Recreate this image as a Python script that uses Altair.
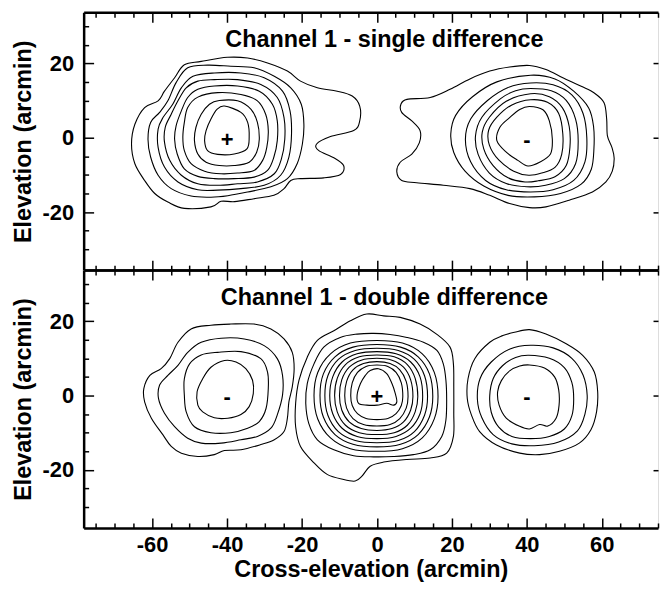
import altair as alt
import pandas as pd

FONT = "Liberation Sans"

# ---------------- contour paths (arcmin) : top panel, single difference ----------------
single_pos_1 = [(-65.5,-1.7),(-64.6,3.6),(-62.0,8.1),(-58.4,9.9),(-56.7,12.5),(-54.0,16.1),(-51.4,19.6),
                (-46.9,20.5),(-39.9,21.6),(-34.5,21.4),(-29.2,20.1),(-23.9,17.9),(-20.4,15.2),(-15.9,13.4),
                (-10.6,12.5),(-6.6,11.2),(-4.6,8.5),(-4.6,4.5),(-6.2,1.9),(-12.4,0.3),(-16.1,-1.7),(-15.5,-3.5),
                (-11.5,-5.4),(-8.9,-7.5),(-9.7,-9.9),(-14.2,-10.8),(-20.4,-11.0),(-23.0,-11.5),(-24.8,-13.7),
                (-27.5,-15.5),(-32.8,-16.4),(-38.0,-17.2),(-41.6,-17.1),(-44.3,-18.6),(-51.4,-19.0),
                (-55.8,-17.3),(-59.3,-15.0),(-62.0,-11.5),(-64.6,-7.0)]
single_pos_2 = [(-50.5,18.8),(-45.2,19.5),(-39.0,19.2),(-32.8,18.8),(-27.4,16.5),(-23.0,13.4),(-20.2,9.0),
                (-19.5,3.6),(-19.9,-1.7),(-21.3,-7.0),(-23.9,-11.0),(-28.3,-13.2),(-34.5,-14.6),(-39.8,-15.6),
                (-44.3,-16.0),(-49.6,-15.7),(-54.9,-13.7),(-58.4,-10.1),(-60.4,-5.2),(-61.1,-0.4),(-60.4,4.1),
                (-58.0,6.8),(-55.8,9.9),(-53.6,14.8)]
single_pos_3 = [(-43.4,17.4),(-36.3,17.4),(-30.1,16.1),(-25.2,12.5),(-23.2,7.2),(-22.8,1.0),(-23.5,-5.2),
                (-25.7,-10.1),(-30.1,-12.8),(-36.3,-13.7),(-42.5,-14.1),(-47.8,-14.0),(-53.1,-11.9),
                (-56.7,-7.9),(-58.4,-2.6),(-58.4,2.3),(-57.1,5.4),(-54.5,9.0),(-52.2,13.4),(-49.1,16.5)]
single_pos_4 = [(-43.4,15.6),(-37.2,15.6),(-31.0,14.3),(-26.6,10.8),(-24.8,5.4),(-24.6,-0.4),(-25.5,-5.7),
                (-27.4,-9.7),(-31.9,-11.9),(-37.2,-12.4),(-42.5,-12.8),(-47.8,-12.4),(-52.2,-10.1),
                (-55.3,-6.1),(-56.7,-1.2),(-56.5,2.8),(-54.9,6.3),(-53.1,9.9),(-50.9,13.4),(-47.8,15.2)]
single_pos_5 = [(-43.4,13.9),(-37.2,13.9),(-31.4,12.5),(-27.9,9.0),(-26.6,4.5),(-26.6,-0.8),(-27.5,-5.2),
                (-29.2,-8.8),(-32.8,-10.6),(-38.1,-11.0),(-43.4,-11.0),(-47.8,-10.4),(-51.4,-8.4),
                (-53.3,-4.4),(-54.0,-0.4),(-53.6,3.2),(-52.2,7.2),(-50.5,10.8),(-47.8,13.0)]
single_pos_6 = [(-42.5,12.1),(-36.3,11.6),(-31.9,9.9),(-29.7,6.3),(-29.0,1.9),(-29.4,-2.6),(-30.5,-6.1),
                (-32.8,-8.8),(-37.2,-9.5),(-41.6,-9.7),(-46.0,-9.0),(-49.6,-7.0),(-51.4,-3.5),(-51.8,0.1),
                (-51.4,4.1),(-50.5,8.1),(-47.8,10.9)]
single_pos_7 = [(-42.1,10.0),(-37.2,9.9),(-33.6,7.6),(-31.9,4.1),(-31.4,-0.4),(-32.1,-3.9),(-34.1,-6.6),
                (-38.1,-7.5),(-42.1,-7.5),(-45.6,-6.6),(-47.8,-4.4),(-48.7,-0.8),(-48.3,2.8),(-46.9,6.3),
                (-44.7,9.0)]
single_pos_8 = [(-40.7,8.5),(-36.3,6.8),(-34.5,4.1),(-34.1,0.1),(-34.7,-3.0),(-38.1,-4.4),(-42.5,-4.5),
                (-45.2,-3.5),(-46.0,-0.8),(-45.6,1.9),(-44.3,5.0),(-42.7,7.6)]

single_neg_1 = [(8.0,10.3),(14.2,10.8),(19.5,13.0),(24.8,15.8),(30.1,17.9),(35.4,19.0),(40.7,19.4),
                (45.1,18.3),(49.6,16.1),(54.5,13.8),(58.0,12.0),(60.6,9.4),(61.3,5.0),(61.5,0.5),
                (62.7,-2.6),(63.3,-5.5),(62.8,-9.0),(61.1,-11.9),(57.5,-14.6),(51.3,-16.8),(45.1,-18.6),
                (40.7,-18.8),(35.4,-17.7),(30.1,-15.5),(24.8,-13.7),(17.7,-12.8),(10.6,-12.1),(6.6,-11.5),
                (5.3,-9.2),(6.2,-6.6),(9.3,-4.4),(11.3,-1.4),(11.5,1.9),(9.3,4.5),(6.6,6.8),(6.4,9.0)]
single_neg_2 = [(41.0,16.8),(47.5,15.8),(52.5,12.5),(56.5,8.0),(57.8,3.0),(57.9,-3.0),(57.2,-8.5),
                (54.5,-12.5),(49.0,-15.0),(42.0,-15.9),(35.0,-15.5),(28.5,-13.0),(23.5,-9.0),(20.5,-4.0),
                (19.7,1.0),(21.0,6.0),(25.5,11.0),(32.0,15.0)]
single_neg_3 = [(41.0,14.7),(47.0,14.2),(52.0,11.5),(55.0,6.5),(56.0,0.0),(55.5,-6.5),(52.5,-11.5),
                (47.0,-14.0),(41.0,-14.6),(34.5,-14.0),(29.0,-11.5),(25.0,-6.5),(23.6,-0.5),(25.0,5.0),
                (29.5,10.0),(35.0,13.5)]
single_neg_4 = [(41.0,13.2),(46.5,12.6),(50.5,10.0),(53.0,5.0),(53.7,-1.0),(53.0,-7.0),(50.0,-11.0),
                (45.0,-12.8),(40.0,-13.2),(34.5,-12.3),(30.0,-9.5),(27.0,-4.5),(26.3,0.5),(28.0,5.5),
                (33.0,10.5),(37.0,12.6)]
single_neg_5 = [(41.0,11.8),(46.0,11.0),(49.5,8.0),(51.3,3.0),(51.5,-2.5),(50.5,-7.5),(47.5,-10.5),
                (43.0,-11.6),(39.5,-11.9),(35.0,-10.8),(31.0,-7.5),(28.5,-3.0),(28.1,1.5),(30.0,5.5),
                (34.5,9.8)]
single_neg_6 = [(41.0,10.2),(45.5,9.5),(48.5,6.5),(49.6,1.0),(49.3,-4.5),(47.5,-8.0),(44.0,-9.5),
                (40.5,-10.1),(36.5,-9.0),(32.5,-6.0),(30.0,-2.0),(29.8,2.0),(32.0,5.5),(36.0,8.8)]
single_neg_7 = [(40.7,8.4),(44.3,7.5),(46.0,4.5),(46.8,-0.4),(46.3,-4.4),(43.4,-6.6),(40.3,-7.6),
                (37.6,-6.1),(34.5,-3.9),(32.0,-0.8),(32.8,2.8),(35.4,5.4),(38.1,7.6)]

# ---------------- contour paths (arcmin) : bottom panel, double difference ----------------
double_left_1 = [(-49.6,17.9),(-44.3,18.9),(-39.0,19.2),(-32.8,19.2),(-28.3,17.9),(-24.8,15.2),(-22.6,11.6),
                 (-22.1,7.2),(-22.6,2.3),(-23.5,-1.7),(-23.9,-6.1),(-24.8,-9.7),(-27.4,-11.9),(-31.0,-13.2),
                 (-36.3,-14.6),(-40.7,-14.8),(-43.4,-15.9),(-47.8,-16.4),(-52.2,-15.5),(-54.9,-13.7),
                 (-57.1,-10.6),(-60.2,-6.1),(-62.0,-1.7),(-62.2,1.9),(-60.6,5.4),(-57.6,7.2),(-55.3,9.9),
                 (-53.1,14.3)]
double_left_2 = [(-41.6,15.4),(-35.4,15.2),(-30.1,13.4),(-26.6,9.9),(-25.2,5.4),(-25.2,0.1),(-26.6,-5.2),
                 (-28.3,-8.8),(-31.9,-11.0),(-36.3,-11.9),(-41.6,-12.8),(-46.9,-12.8),(-50.5,-11.5),
                 (-54.0,-8.4),(-56.7,-4.8),(-58.3,-0.8),(-58.0,2.8),(-55.8,5.4),(-53.1,8.1),(-50.5,11.6),
                 (-46.9,14.3)]
double_left_3 = [(-42.5,11.6),(-36.3,11.8),(-31.0,9.9),(-29.2,6.3),(-29.0,1.9),(-29.6,-3.5),(-31.4,-7.0),
                 (-34.5,-8.8),(-39.0,-10.0),(-44.3,-10.0),(-48.7,-8.4),(-50.9,-4.4),(-51.4,0.1),(-51.4,4.5),
                 (-50.0,8.5),(-46.9,10.9)]
double_left_4 = [(-40.7,9.4),(-37.6,9.0),(-35.0,7.2),(-33.2,4.1),(-33.0,0.5),(-34.1,-3.0),(-36.3,-5.1),
                 (-39.8,-6.1),(-43.4,-6.0),(-46.5,-4.4),(-47.8,-2.6),(-48.0,1.0),(-46.5,4.5),(-44.3,7.6)]

double_mid_1 = [(-2.7,21.9),(-7.1,20.1),(-11.5,17.4),(-15.9,14.8),(-18.6,10.3),(-20.8,4.1),(-21.7,-2.1),
                (-21.7,-8.4),(-20.4,-13.7),(-16.8,-18.1),(-13.3,-21.2),(-8.9,-22.6),(-5.8,-23.0),(-4.0,-21.7),
                (-1.8,-19.0),(1.8,-17.9),(8.0,-17.2),(14.2,-16.8),(18.6,-15.5),(20.4,-11.0),(20.5,-4.8),
                (20.5,2.3),(20.4,8.5),(19.5,13.0),(15.9,16.5),(11.5,19.2),(6.2,21.0),(1.8,21.4)]
double_mid_2 = [(-0.9,16.7),(3.5,16.4),(8.0,15.6),(12.4,14.3),(16.0,12.1),(17.7,8.5),(18.4,4.1),
                (18.6,-1.2),(18.4,-6.6),(17.3,-11.0),(14.2,-14.6),(9.7,-15.9),(4.4,-16.4),(-0.9,-16.5),
                (-6.2,-16.2),(-11.5,-14.6),(-15.9,-11.9),(-18.2,-7.5),(-19.0,-2.1),(-18.6,3.2),(-16.8,8.5),
                (-14.2,13.0),(-9.8,15.6),(-5.3,16.5)]
double_mid_3 = [(0.0,14.8),(6.8,14.1),(12.1,11.2),(15.3,6.2),(16.3,-0.3),(15.3,-6.3),(12.1,-11.4),
                (6.8,-14.3),(0.0,-15.0),(-7.1,-14.3),(-12.4,-11.4),(-15.8,-6.3),(-16.8,0.0),(-15.8,6.2),
                (-12.4,11.2),(-7.1,14.1)]
double_mid_4 = [(0.0,13.7),(6.3,13.0),(11.0,10.4),(14.0,5.8),(14.9,-0.3),(14.0,-5.8),(11.0,-10.5),
                (6.3,-13.1),(0.0,-13.8),(-6.4,-13.1),(-11.2,-10.5),(-14.3,-5.8),(-15.2,0.0),(-14.3,5.8),
                (-11.2,10.4),(-6.4,13.0)]
double_mid_5 = [(0.0,12.7),(5.7,12.1),(10.0,9.7),(12.7,5.3),(13.5,-0.3),(12.7,-5.3),(10.0,-9.7),
                (5.7,-12.1),(0.0,-12.7),(-5.8,-12.1),(-10.3,-9.7),(-13.1,-5.3),(-13.9,0.0),(-13.1,5.3),
                (-10.3,9.7),(-5.8,12.1)]
double_mid_6 = [(0.0,11.8),(5.1,11.2),(9.0,9.0),(11.5,5.0),(12.2,-0.3),(11.5,-4.9),(9.0,-8.8),
                (5.1,-11.0),(0.0,-11.6),(-5.3,-11.0),(-9.3,-8.8),(-11.8,-4.9),(-12.6,0.0),(-11.8,5.0),
                (-9.3,9.0),(-5.3,11.2)]
double_mid_7 = [(0.0,10.9),(4.6,10.4),(8.1,8.3),(10.2,4.6),(10.9,-0.3),(10.2,-4.4),(8.1,-8.0),
                (4.6,-10.0),(0.0,-10.5),(-4.7,-10.0),(-8.4,-8.0),(-10.6,-4.4),(-11.3,0.0),(-10.6,4.6),
                (-8.4,8.3),(-4.7,10.4)]
double_mid_8 = [(0.0,10.0),(4.0,9.5),(7.1,7.6),(9.0,4.2),(9.6,-0.3),(9.0,-3.9),(7.1,-7.1),
                (4.0,-8.9),(0.0,-9.4),(-4.2,-8.9),(-7.4,-7.1),(-9.4,-3.9),(-10.0,0.0),(-9.4,4.2),
                (-7.4,7.6),(-4.2,9.5)]
double_mid_9 = [(0.0,9.1),(3.5,8.6),(6.1,6.9),(7.8,3.8),(8.3,-0.3),(7.8,-3.4),(6.1,-6.2),
                (3.5,-7.8),(0.0,-8.2),(-3.6,-7.8),(-6.4,-6.2),(-8.1,-3.4),(-8.6,0.0),(-8.1,3.8),
                (-6.4,6.9),(-3.6,8.6)]
double_mid_10 = [(0.0,8.2),(2.9,7.8),(5.1,6.2),(6.5,3.4),(6.9,-0.3),(6.5,-2.7),(5.1,-4.9),
                 (2.9,-6.2),(0.0,-6.5),(-2.9,-6.2),(-5.2,-4.9),(-6.6,-2.7),(-7.0,0.0),(-6.6,3.4),
                 (-5.2,6.2),(-2.9,7.8)]
double_mid_11 = [(-1.8,6.7),(0.4,7.2),(2.6,5.9),(4.0,3.2),(4.9,0.5),(5.3,-1.7),(4.4,-2.6),(2.6,-2.1),
                 (0.0,-2.6),(-2.7,-2.6),(-4.9,-2.1),(-5.3,0.1),(-4.4,3.2),(-3.1,5.4)]

double_right_1 = [(36.7,17.0),(40.7,17.7),(45.1,16.5),(50.5,13.9),(54.9,10.8),(58.0,6.3),(58.9,1.0),
                  (58.6,-4.4),(57.1,-9.2),(54.0,-12.8),(48.7,-15.0),(43.4,-15.9),(38.1,-15.5),(31.9,-13.3),
                  (27.4,-9.7),(25.2,-5.2),(24.1,-0.8),(24.3,4.5),(26.1,9.9),(30.1,14.3),(33.6,16.1)]
double_right_2 = [(41.0,13.5),(47.0,12.8),(52.0,10.0),(55.0,5.5),(56.1,0.0),(55.5,-5.0),(53.5,-9.5),
                  (48.5,-12.5),(42.0,-13.5),(36.0,-13.0),(31.0,-10.5),(28.0,-6.0),(26.8,-1.0),(27.5,4.5),
                  (30.5,9.0),(35.5,12.5)]
double_right_3 = [(40.5,10.8),(46.0,10.0),(50.0,7.5),(52.0,3.5),(52.5,-1.0),(52.0,-5.5),(50.0,-9.0),
                  (46.0,-11.0),(41.0,-11.6),(36.0,-11.0),(32.5,-8.5),(30.5,-4.5),(30.1,0.0),(31.0,4.5),
                  (33.5,8.0),(37.0,10.2)]
double_right_4 = [(40.7,8.2),(44.7,7.4),(47.4,5.0),(48.5,1.5),(48.6,-2.6),(47.8,-6.1),(45.6,-8.2),
                  (43.4,-7.8),(40.7,-9.0),(38.1,-8.3),(34.5,-6.1),(32.6,-2.6),(32.2,1.0),(33.2,4.0),
                  (35.4,6.6),(38.1,7.9)]

top_contours = [single_pos_1, single_pos_2, single_pos_3, single_pos_4, single_pos_5, single_pos_6,
                single_pos_7, single_pos_8, single_neg_1, single_neg_2, single_neg_3, single_neg_4,
                single_neg_5, single_neg_6, single_neg_7]
bottom_contours = [double_left_1, double_left_2, double_left_3, double_left_4,
                   double_mid_1, double_mid_2, double_mid_3, double_mid_4, double_mid_5, double_mid_6,
                   double_mid_7, double_mid_8, double_mid_9, double_mid_10, double_mid_11,
                   double_right_1, double_right_2, double_right_3, double_right_4]

# beam-centre signs
top_sign_x = [-40, 40]
top_sign_y = [0, 0]
top_signs = ["+", "-"]
bottom_sign_x = [-40, 0, 40]
bottom_sign_y = [0, 0, 0]
bottom_signs = ["-", "+", "-"]

panel_titles = ["Channel 1 - single difference", "Channel 1 - double difference"]
title_x = [2.0, 2.0]
title_y = [24.3, 24.3]

x_title = "Cross-elevation (arcmin)"
y_title = "Elevation (arcmin)"
major_x = [-60, -40, -20, 0, 20, 40, 60]
minor_x = [-75, -70, -65, -55, -50, -45, -35, -30, -25, -15, -10, -5, 5, 10, 15, 25, 30, 35, 45, 50, 55, 65, 70, 75]
major_y = [-20, 0, 20]
minor_y = [-30, -25, -15, -10, -5, 5, 10, 15, 25, 30]

X_DOM = [-78.27, 75.0]
Y_DOM = [-35.6, 33.7]
W, H = 577, 259


def contour_frame(contours, tag):
    rows = []
    for cid, pts in enumerate(contours):
        for k, (x, y) in enumerate(pts):
            rows.append({"cid": f"{tag}{cid}", "k": k, "x": x, "y": y})
    return pd.DataFrame(rows)


XS = alt.Scale(domain=X_DOM, nice=False, zero=False)
YS = alt.Scale(domain=Y_DOM, nice=False, zero=False)
LABEL_EXPR = "datum.value < 0 ? '-' + abs(datum.value) : '' + datum.value"


def tick_axis(orient, values, size):
    return alt.Axis(orient=orient, values=values, labels=False, domain=False, grid=False,
                    ticks=True, tickSize=size, tickWidth=1.5, tickColor="black",
                    offset=-size, title=None)


def x_main(show):
    kw = dict(orient="bottom", values=major_x, ticks=False, grid=False, domain=True,
              domainWidth=2.5, domainColor="black")
    if show:
        kw.update(labels=True, labelFont=FONT, labelFontSize=22, labelFontWeight="bold",
                  labelColor="black", labelPadding=7, labelExpr=LABEL_EXPR, labelFlush=False,
                  title=x_title, titleFont=FONT, titleFontSize=23.5, titleFontWeight="bold",
                  titleColor="black", titlePadding=2)
    else:
        kw.update(labels=False, title=None)
    return alt.Axis(**kw)


y_main = alt.Axis(orient="left", values=major_y, ticks=False, grid=False, domain=True,
                  domainWidth=2.5, domainColor="black", labels=True, labelFont=FONT,
                  labelFontSize=22, labelFontWeight="bold", labelColor="black", labelPadding=10,
                  labelExpr=LABEL_EXPR, title=y_title, titleFont=FONT, titleFontSize=23.5,
                  titleFontWeight="bold", titleColor="black", titlePadding=7)

x_top_domain = alt.Axis(orient="top", values=major_x, ticks=False, labels=False, grid=False,
                        domain=True, domainWidth=2.5, domainColor="black", title=None)


def panel(contours, tag, sx, sy, signs, title_idx, show_x):
    cdf = contour_frame(contours, tag)
    sdf = pd.DataFrame({"x": sx, "y": sy, "sign": signs})
    tdf = pd.DataFrame({"x": [title_x[title_idx]], "y": [title_y[title_idx]],
                        "label": [panel_titles[title_idx]]})

    def X(axis):
        return alt.X("x:Q", scale=XS, axis=axis)

    def Y(axis):
        return alt.Y("y:Q", scale=YS, axis=axis)

    lines = alt.Chart(cdf).mark_line(
        interpolate="cardinal-closed", color="black", strokeWidth=1.1, clip=True
    ).encode(x=X(x_main(show_x)), y=Y(y_main), detail="cid:N", order="k:Q")

    sign_layer = alt.Chart(sdf).mark_text(
        font=FONT, fontSize=22, fontWeight="bold", color="black", baseline="middle", dy=2
    ).encode(x=X(x_top_domain), y=Y(tick_axis("right", major_y, 5)), text="sign:N")

    heading = alt.Chart(tdf).mark_text(
        font=FONT, fontSize=23.5, fontWeight="bold", color="black", align="center",
        baseline="alphabetic"
    ).encode(x=X(tick_axis("bottom", major_x, 10)), y=Y(tick_axis("left", major_y, 10)),
             text="label:N")

    d1 = alt.Chart(tdf).mark_point(opacity=0).encode(
        x=X(tick_axis("bottom", minor_x, 5)), y=Y(tick_axis("left", minor_y, 5)))
    d2 = alt.Chart(tdf).mark_point(opacity=0).encode(
        x=X(tick_axis("top", major_x, 10)), y=Y(None))
    d3 = alt.Chart(tdf).mark_point(opacity=0).encode(
        x=X(tick_axis("top", minor_x, 5)), y=Y(None))

    return alt.layer(lines, sign_layer, heading, d1, d2, d3).resolve_axis(
        x="independent", y="independent").properties(width=W, height=H)


top = panel(top_contours, "t", top_sign_x, top_sign_y, top_signs, 0, False)
bottom = panel(bottom_contours, "b", bottom_sign_x, bottom_sign_y, bottom_signs, 1, True)

chart = alt.vconcat(top, bottom, spacing=0, bounds="flush").properties(
    padding={"left": 2, "top": 1, "right": 0, "bottom": 0}
).configure_view(stroke=None).configure(background="white")

chart.save("out.html", embed_options={"renderer": "svg", "actions": False})
